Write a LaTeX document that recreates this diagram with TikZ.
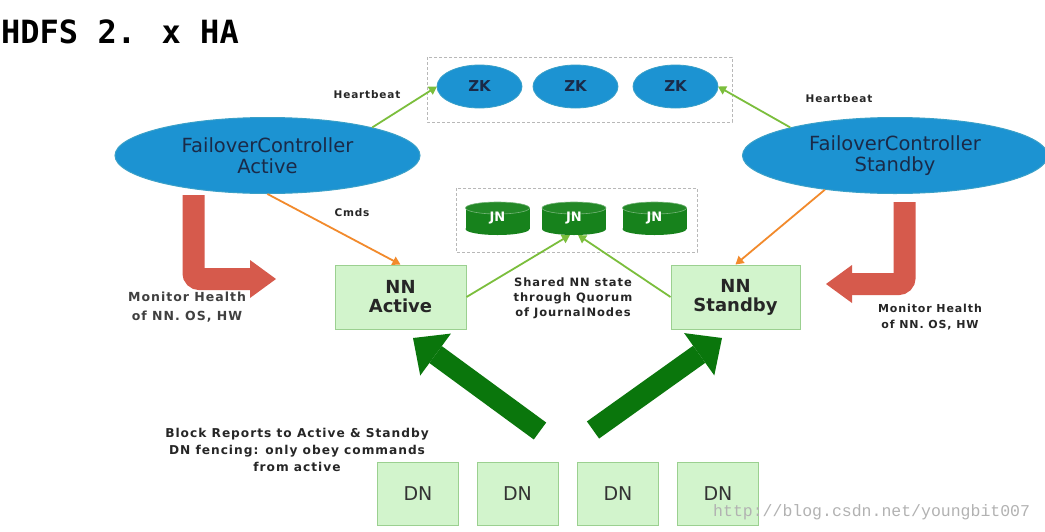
\documentclass[tikz,border=0pt]{standalone}
\usepackage{fontspec}
\setmainfont{DejaVu Sans}
\newfontfamily\titlefont{DejaVu Sans Mono}
\newfontfamily\lblfont[LetterSpace=8]{DejaVu Sans}
\newfontfamily\wmfont{Liberation Mono}
\usetikzlibrary{shapes.geometric,arrows.meta}
\definecolor{fcblue}{HTML}{1C93D2}
\definecolor{fcedge}{HTML}{3AA0C8}
\definecolor{navy}{HTML}{1A2A48}
\definecolor{jngreen}{HTML}{17821C}
\definecolor{boxfill}{HTML}{D2F4CC}
\definecolor{boxedge}{HTML}{9BD090}
\definecolor{redarr}{HTML}{D65A4C}
\definecolor{orangearr}{HTML}{F28A2C}
\definecolor{hbgreen}{HTML}{7BBE3C}
\definecolor{bigg}{HTML}{0A760C}
\definecolor{dashgray}{HTML}{B8B8B8}
\tikzset{
  fcnode/.style={ellipse, fill=fcblue, draw=fcedge, line width=1pt, minimum width=305pt, minimum height=76pt, inner sep=0pt, text=navy, font=\fontsize{19.5}{21}\selectfont, align=center},
  zknode/.style={ellipse, fill=fcblue, draw=fcedge, line width=0.8pt, minimum width=85pt, minimum height=43pt, inner sep=0pt, outer sep=0pt, text=navy, font=\bfseries\fontsize{15}{16}\selectfont},
  nnbox/.style={rectangle, fill=boxfill, draw=boxedge, line width=1pt, minimum width=131pt, minimum height=64pt, inner sep=0pt, font=\bfseries\fontsize{18}{19}\selectfont, align=center, text=black!85},
  dnbox/.style={rectangle, fill=boxfill, draw=boxedge, line width=1pt, minimum width=81pt, minimum height=63pt, inner sep=0pt, font=\fontsize{19}{20}\selectfont, text=black!80},
  jnnode/.style={minimum width=64pt, minimum height=33pt, inner sep=0pt, outer sep=0pt, text=white, font=\bfseries\fontsize{13}{15}\selectfont},
  dashbox/.style={draw=dashgray, line width=0.9pt, dash pattern=on 3pt off 2pt},
  lbl/.style={font=\lblfont\bfseries\fontsize{10.5}{15}\selectfont, text=black!85, align=center},
  hbline/.style={draw=hbgreen, line width=1.8pt, -{Triangle[width=9pt,length=8pt]}},
  cmdline/.style={draw=orangearr, line width=1.8pt, -{Triangle[width=9pt,length=8pt]}},
  jnline/.style={draw=hbgreen, line width=1.8pt, -{Triangle[width=9pt,length=8pt]}},
  redarrow/.style={draw=redarr, line width=22pt, rounded corners=6pt, -{Triangle[width=38pt,length=26pt,line width=0pt]}},
  bigarrow/.style={draw=bigg, line width=21pt, -{Triangle[width=52pt,length=28pt,line width=0pt]}},
}
\begin{document}
\begin{tikzpicture}[x=1pt,y=-1pt]
\useasboundingbox (0,0) rectangle (1045,531);
\fill[white] (0,0) rectangle (1045,531);
% title
\node[anchor=base west, inner sep=0pt, font=\titlefont\bfseries\fontsize{32}{36}\selectfont] (title) at (1,43) {HDFS 2. x HA};
% ZK group
\draw[dashbox] (427,57) rectangle (732,122);
\node[zknode] (zk1) at (479.5,86.5) {ZK};
\node[zknode] (zk2) at (575.5,86.5) {ZK};
\node[zknode] (zk3) at (675.5,86.5) {ZK};
% failover controllers
\node[fcnode] (fca) at (267.5,155.5) {FailoverController\\Active};
\node[fcnode] (fcs) at (895,155.5) {FailoverController\\Standby};
% JN group
\draw[dashbox] (456,188) rectangle (697,252);
\foreach \nm/\cx in {j1/497.5,j2/574,j3/654.5}{
  \fill[jngreen] (\cx-32,208) rectangle (\cx+32,229);
  \fill[jngreen] (\cx,229) ellipse[x radius=32, y radius=6];
  \draw[jngreen!60!white, fill=jngreen!95!white, line width=0.6pt] (\cx,208) ellipse[x radius=32, y radius=6];
  \node[jnnode] (\nm) at (\cx,218.5) {\raisebox{-3pt}{JN}};
}
% name nodes
\node[nnbox] (nna) at (400.5,297) {NN\\Active};
\node[nnbox, minimum width=129pt] (nns) at (735.5,297) {NN\\Standby};
% data nodes
\node[dnbox] (dn1) at (418,493.5) {DN};
\node[dnbox] (dn2) at (517.5,493.5) {DN};
\node[dnbox] (dn3) at (618,493.5) {DN};
\node[dnbox] (dn4) at (718,493.5) {DN};
% connectors
\draw[hbline] (fca.15) -- (zk1.west);
\draw[hbline] (fcs.165) -- (zk3.east);
\draw[cmdline] (fca.south) -- (nna.north);
\draw[cmdline] (fcs.206) -- (nns.north);
\draw[jnline] (nna.east) -- ([xshift=-4pt]j2.south);
\draw[jnline] (nns.west) -- ([xshift=4pt]j2.south);
% red monitor arrows
\coordinate (mla) at (193.5,195);
\coordinate (mlb) at (276,279);
\coordinate (mra) at (904.5,202);
\coordinate (mrb) at (826,284);
\draw[redarrow] (mla) |- (mlb);
\draw[redarrow] (mra) |- (mrb);
% big block report arrows
\coordinate (bla) at (540,431);
\coordinate (blb) at (413,338);
\coordinate (bra) at (593,430);
\coordinate (brb) at (722,338);
\draw[bigarrow] (bla) -- (blb);
\draw[bigarrow] (bra) -- (brb);
% labels
\node[lbl] (hbl) at (367,95) {Heartbeat};
\node[lbl] (hbr) at (839,99) {Heartbeat};
\node[lbl] (cmds) at (352,213) {Cmds};
\node[lbl, font=\lblfont\bfseries\fontsize{12.5}{19}\selectfont, text=black!75] (mhl) at (187,307) {Monitor Health\\of NN. OS, HW};
\node[lbl, font=\lblfont\bfseries\fontsize{11}{16}\selectfont] (mhr) at (930,317) {Monitor Health\\of NN. OS, HW};
\node[lbl, font=\lblfont\bfseries\fontsize{11.5}{15}\selectfont] (shared) at (573,298) {Shared NN state\\through Quorum\\of JournalNodes};
\node[lbl, font=\lblfont\bfseries\fontsize{12.2}{17}\selectfont] (block) at (297,450) {Block Reports to Active \& Standby\\DN fencing: only obey commands\\from active};
% watermark
\node[anchor=base west, inner sep=0pt, text=black!30, font=\wmfont\fontsize{16.5}{18}\selectfont] (wm) at (713,516) {http://blog.csdn.net/youngbit007};
\end{tikzpicture}
\end{document}
